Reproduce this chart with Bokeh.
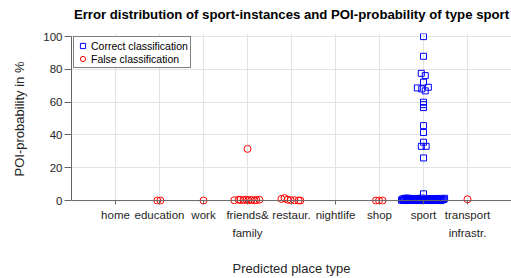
from bokeh.plotting import figure
from bokeh.models import FixedTicker, ColumnDataSource, Legend, LegendItem, Range1d, Span, Title
from bokeh.embed import file_html
from bokeh.resources import INLINE

categories = ["home", "education", "work", "friends&\nfamily", "restaur.", "nightlife",
              "shop", "sport", "transport\ninfrastr."]

# Correct classification: category index, jitter offset, POI-probability in %
correct_off = [0.0, 0.0, -0.05, 0.04, 0.0, -0.14, -0.04, 0.11, 0.04, 0.0, 0.0, 0.0, 0.0, 0.0, 0.0,
               -0.05, 0.06, 0.0, 0.0,
               -0.5, -0.48, -0.46, -0.44, -0.42, -0.4, -0.38, -0.36, -0.34, -0.32, -0.3, -0.28,
               -0.26, -0.24, -0.22, -0.2, -0.18, -0.16, -0.14, -0.12, -0.1, -0.08, -0.06, -0.04,
               -0.02, 0.0, 0.02, 0.04, 0.06, 0.08, 0.1, 0.12, 0.14, 0.16, 0.18, 0.2, 0.22, 0.24,
               0.26, 0.28, 0.3, 0.32, 0.34, 0.36, 0.38, 0.4, 0.42, 0.44, 0.46, 0.48,
               -0.45, -0.33, -0.21, -0.09, 0.03, 0.15, 0.27, 0.39, -0.39, -0.15, 0.09, 0.33]
correct_val = [100, 88, 77.6, 76.2, 72.2, 68.7, 68.1, 69.1, 66.9, 60, 58.5, 56.7, 45.7, 41.5,
               35.6, 33.1, 33.1, 26, 4.1,
               0.2, 0.9, 0.1, 1.2, 0.3, 0.0, 0.8, 0.2, 1.4, 0.4, 0.1, 0.7, 0.3, 1.1, 0.5, 0.9,
               0.2, 1.3, 0.1, 0.4, 0.8, 0.3, 0.0, 1.5, 0.7, 0.2, 0.6, 1.0, 0.4, 0.3, 0.8, 0.2,
               0.5, 1.2, 0.0, 0.6, 1.1, 0.3, 0.9, 0.1, 0.5, 1.3, 0.2, 0.7, 0.0, 1.0, 0.4, 0.8,
               0.6, 1.4, 0.2, 0.9, 1.1, 0.3, 0.5, 1.2, 0.7, 0.0, 1.5, 0.4, 0.8]
correct_cat = [8] * len(correct_val)

# False classification
false_cat = [2, 2, 3, 4, 4, 4, 4, 4, 4, 4, 4, 4, 4, 4, 5, 5, 5, 5, 5, 5, 5, 7, 7, 7, 9]
false_off = [-0.05, 0.02, 0.0, -0.3, -0.2, -0.16, -0.09, -0.02, 0.02, 0.09, 0.16, 0.2, 0.27, 0.0,
             -0.23, -0.16, -0.09, -0.02, 0.07, 0.16, 0.2, -0.08, -0.01, 0.07, 0.0]
false_val = [0, 0, 0, 0.2, 0.5, 0.4, 0.3, 0.5, 0.2, 0.4, 0.1, 0.3, 0.5, 31.5,
             1.0, 1.5, 0.5, 0.3, 0.2, 0.0, 0.0, 0, 0, 0, 0.8]

y_ticks = [0, 20, 40, 60, 80, 100]

FONT = "Liberation Sans"
AX = "#666666"
TXT = "#262626"

p = figure(frame_width=440, frame_height=171, output_backend="svg", toolbar_location=None,
           x_range=Range1d(0, 10), y_range=Range1d(-2.4, 101.9),
           min_border_left=71, min_border_right=0, min_border_top=0, min_border_bottom=72)

p.title.text = "Error distribution of sport-instances and POI-probability of type sport"
p.title.text_font = FONT
p.title.text_font_size = "13.2px"
p.title.text_font_style = "bold"
p.title.align = "center"
p.title.text_color = "#000000"
p.title.standoff = 8

# thin empty spacer between the title and the plot area
p.add_layout(Title(text=" ", text_font_size="1px", standoff=5), "above")

src_c = ColumnDataSource(dict(x=[c + o for c, o in zip(correct_cat, correct_off)], y=correct_val))
src_f = ColumnDataSource(dict(x=[c + o for c, o in zip(false_cat, false_off)], y=false_val))

r1 = p.scatter("x", "y", source=src_c, marker="square", size=6, fill_color=None,
               line_color="#0000ff", line_width=1)
r2 = p.scatter("x", "y", source=src_f, marker="circle", size=7, fill_color=None,
               line_color="#ff0000", line_width=1)

p.xaxis.ticker = FixedTicker(ticks=list(range(1, len(categories) + 1)))
p.xaxis.major_label_overrides = {i + 1: c for i, c in enumerate(categories)}
p.yaxis.ticker = FixedTicker(ticks=y_ticks)
p.yaxis.bounds = (0, 100)

for ax in (p.xaxis[0], p.yaxis[0]):
    ax.axis_line_color = AX
    ax.major_tick_line_color = AX
    ax.minor_tick_line_color = None
    ax.major_label_text_font = FONT
    ax.major_label_text_font_size = "11.5px"
    ax.major_label_text_color = TXT
    ax.axis_label_text_font = FONT
    ax.axis_label_text_font_size = "13px"
    ax.axis_label_text_font_style = "normal"
    ax.axis_label_text_color = TXT

# x axis line is drawn at y = 0 (inside the padded frame)
p.xaxis.axis_line_color = None
p.xaxis.major_tick_out = 0
p.xaxis.major_tick_in = 4
p.yaxis.major_tick_out = 7
p.yaxis.major_tick_in = 0
p.xaxis.axis_label = "Predicted place type"
p.yaxis.axis_label = "POI-probability in %"
p.xaxis.major_label_standoff = 4
p.xaxis.major_label_text_line_height = 1.56
p.xaxis.axis_label_standoff = 19
p.yaxis.major_label_standoff = 2
p.yaxis.axis_label_standoff = 13

p.grid.grid_line_color = "#e3e3e3"
p.grid.grid_line_width = 1
p.outline_line_color = None

p.add_layout(Span(location=0, dimension="width", line_color=AX, line_width=1))

legend = Legend(items=[LegendItem(label="Correct classification", renderers=[r1]),
                       LegendItem(label="False classification", renderers=[r2])],
                location=(2, 136))
legend.border_line_color = "#000000"
legend.border_line_width = 1
legend.background_fill_alpha = 1
legend.label_text_font = FONT
legend.label_text_font_size = "10.5px"
legend.label_text_color = "#000000"
legend.label_height = 13
legend.glyph_height = 13
legend.glyph_width = 13
legend.spacing = 0
legend.padding = 2
legend.margin = 0
legend.label_standoff = 2
p.add_layout(legend)

open("out.html", "w").write(file_html(p, INLINE))
